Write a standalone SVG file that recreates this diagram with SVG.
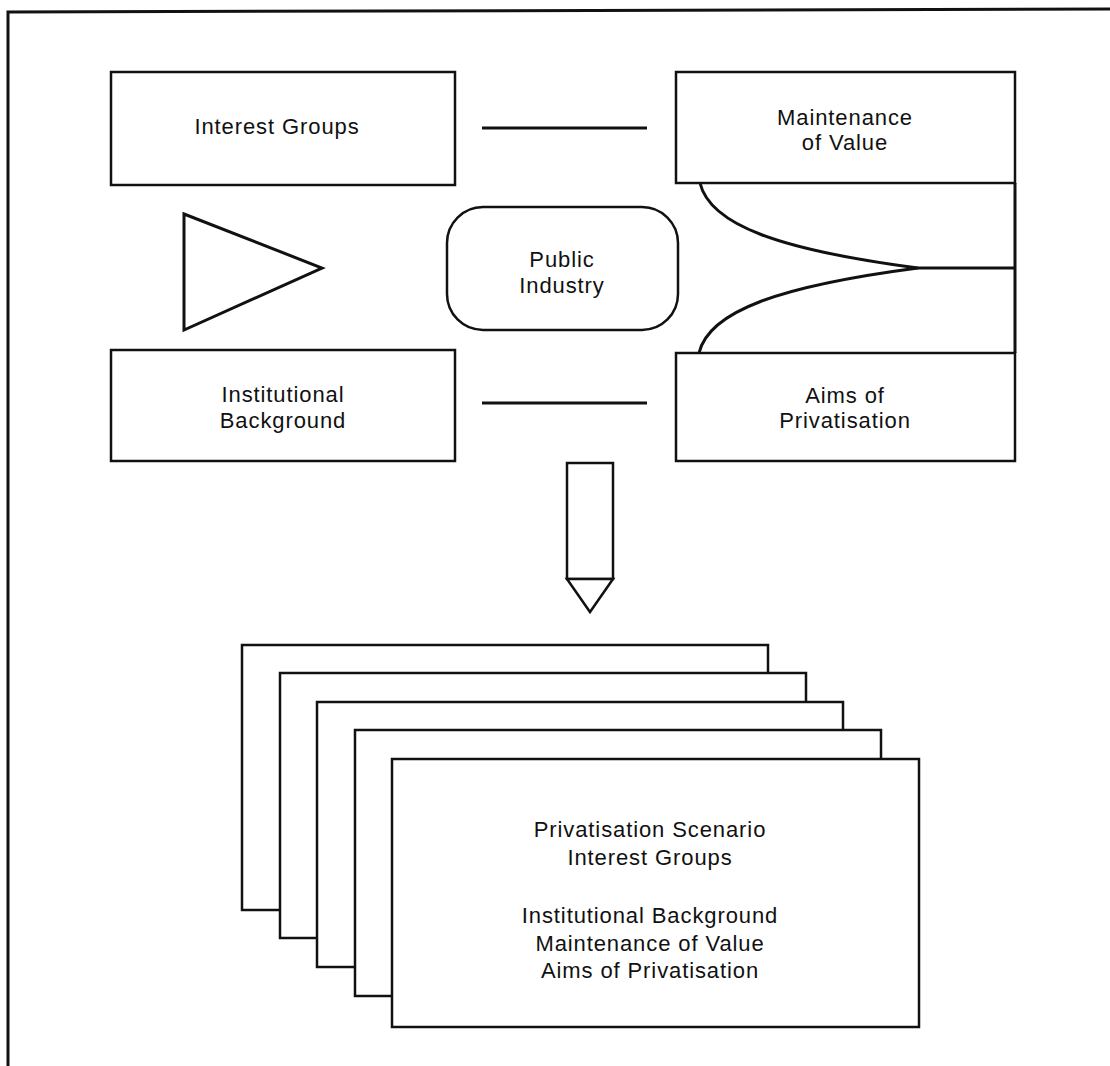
<svg xmlns="http://www.w3.org/2000/svg" width="1110" height="1066" viewBox="0 0 1110 1066">
<style>
.box{fill:#fff;stroke:#111;stroke-width:2.5}
.ln{fill:none;stroke:#111;stroke-width:3}
.t{font-family:"Liberation Sans",Arial,sans-serif;font-size:22px;letter-spacing:0.9px;fill:#111;text-anchor:middle}
</style>
<rect width="1110" height="1066" fill="#fff"/>
<g id="frame"><path class="ln" d="M8,1066 L8,12 L1110,9"/></g>
<g id="interest-groups"><rect class="box" x="111" y="72" width="344" height="113"/><text class="t" x="277" y="134">Interest Groups</text></g>
<g id="maintenance"><rect class="box" x="676" y="72" width="339" height="111"/><text class="t" x="845" y="125">Maintenance</text><text class="t" x="845" y="150">of Value</text></g>
<g id="triangle"><polygon class="ln" points="184,214 322,268 184,330"/></g>
<g id="public-industry"><rect class="box" x="447" y="207" width="231" height="123" rx="36"/><text class="t" x="562" y="267">Public</text><text class="t" x="562" y="293">Industry</text></g>
<g id="institutional"><rect class="box" x="111" y="350" width="344" height="111"/><text class="t" x="283" y="402">Institutional</text><text class="t" x="283" y="428">Background</text></g>
<g id="aims"><rect class="box" x="676" y="353" width="339" height="108"/><text class="t" x="845" y="403">Aims of</text><text class="t" x="845" y="428">Privatisation</text></g>
<g id="connectors">
<line class="ln" x1="482" y1="128" x2="647" y2="128"/>
<line class="ln" x1="482" y1="403" x2="647" y2="403"/>
<path class="ln" d="M1015,183 L1015,353"/>
<path class="ln" d="M700,183 C710,225 780,250 918,268 L1015,268"/>
<path class="ln" d="M699,353 C709,311 780,286 918,268"/>
</g>
<g id="pencil-arrow"><rect class="box" x="567" y="463" width="46" height="116"/><polygon class="box" points="567,579 613,579 590,612"/></g>
<g id="scenario-cards">
<rect class="box" x="242" y="645" width="526" height="265"/>
<rect class="box" x="280" y="673" width="526" height="265"/>
<rect class="box" x="317" y="702" width="526" height="265"/>
<rect class="box" x="355" y="730" width="526" height="266"/>
<rect class="box" x="392" y="759" width="527" height="268"/>
<text class="t" x="650" y="837">Privatisation Scenario</text>
<text class="t" x="650" y="865">Interest Groups</text>
<text class="t" x="650" y="923">Institutional Background</text>
<text class="t" x="650" y="951">Maintenance of Value</text>
<text class="t" x="650" y="978">Aims of Privatisation</text>
</g>
</svg>
